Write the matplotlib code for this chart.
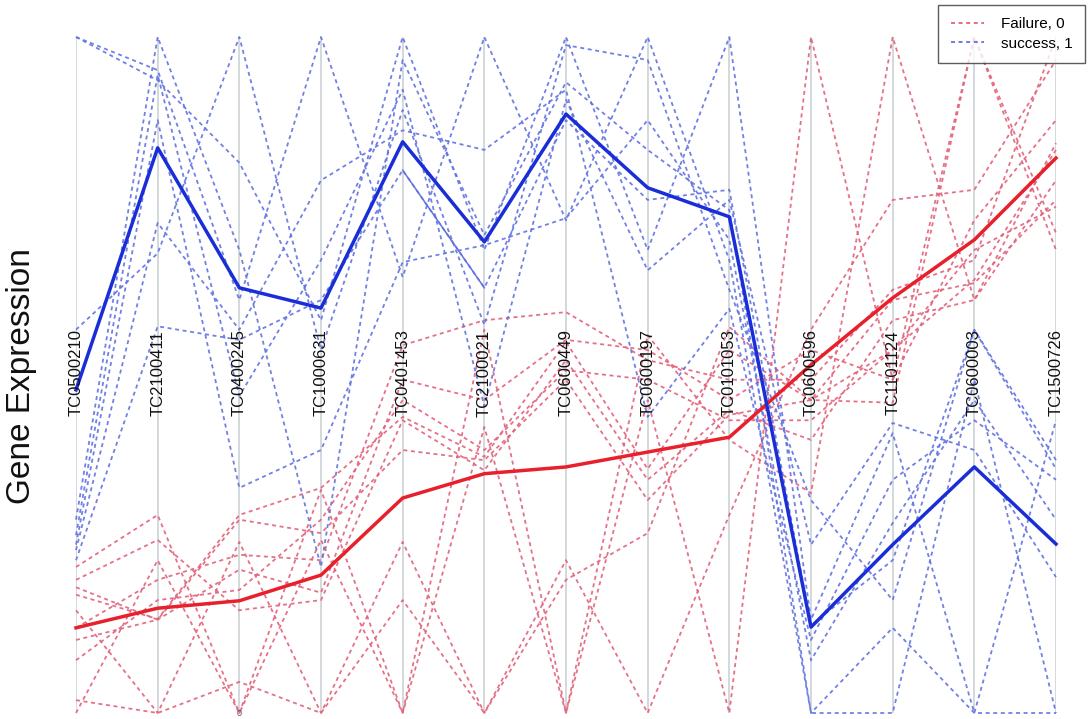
import matplotlib
matplotlib.use("Agg")
import matplotlib.pyplot as plt
from matplotlib.lines import Line2D

genes = ["TC0500210", "TC2100411", "TC0400245", "TC1000631", "TC0401453",
         "TC2100021", "TC0600449", "TC0600197", "TC0101053", "TC0600596",
         "TC1101124", "TC0600003", "TC1500726"]

# normalised expression of the "success, 1" samples
success_samples = [
    [1.000, 0.951, 0.611, 1.000, 0.645, 1.000, 0.729, 1.000, 0.670, 0.000, 0.000, 0.493, 0.000],
    [1.000, 0.936, 0.814, 0.581, 1.000, 0.685, 1.000, 0.685, 1.000, 0.138, 0.414, 0.000, 0.433],
    [0.567, 0.680, 1.000, 0.537, 0.892, 0.574, 0.988, 0.966, 0.626, 0.315, 0.167, 0.567, 0.374],
    [0.286, 1.000, 0.685, 0.216, 0.966, 0.707, 0.933, 0.833, 0.744, 0.000, 0.126, 0.000, 0.000],
    [0.263, 0.944, 0.469, 0.670, 0.922, 0.454, 0.907, 0.655, 0.759, 0.249, 0.429, 0.389, 0.201],
    [0.249, 0.877, 0.333, 0.389, 0.667, 0.692, 0.732, 0.877, 0.700, 0.078, 0.281, 0.463, 0.286],
    [0.241, 0.725, 0.567, 0.788, 0.862, 0.833, 0.922, 0.438, 0.598, 0.108, 0.345, 0.433, 0.345],
    [0.226, 0.572, 0.552, 0.611, 0.803, 0.629, 0.877, 0.759, 0.774, 0.130, 0.226, 0.567, 0.361],
]

# normalised expression of the "Failure, 0" samples
failure_samples = [
    [0.000, 0.226, 0.000, 0.256, 0.000, 0.423, 0.000, 0.463, 0.000, 1.000, 0.493, 1.000, 0.710],
    [0.152, 0.000, 0.253, 0.000, 0.253, 0.000, 0.226, 0.000, 0.293, 0.567, 0.759, 0.774, 0.966],
    [0.216, 0.293, 0.000, 0.330, 0.000, 0.567, 0.000, 0.559, 0.404, 0.325, 1.000, 0.611, 0.843],
    [0.019, 0.000, 0.046, 0.000, 0.167, 0.000, 0.197, 0.266, 0.571, 0.463, 0.459, 1.000, 0.685],
    [0.126, 0.197, 0.234, 0.226, 0.544, 0.581, 0.593, 0.522, 0.493, 0.493, 0.626, 0.670, 1.000],
    [0.108, 0.138, 0.212, 0.178, 0.493, 0.463, 0.552, 0.537, 0.463, 0.537, 0.493, 0.729, 0.877],
    [0.078, 0.167, 0.182, 0.286, 0.463, 0.389, 0.507, 0.493, 0.433, 0.433, 0.537, 0.641, 0.833],
    [0.197, 0.256, 0.152, 0.167, 0.433, 0.359, 0.522, 0.345, 0.448, 0.404, 0.581, 0.611, 0.788],
    [0.186, 0.138, 0.286, 0.266, 0.389, 0.374, 0.493, 0.315, 0.441, 0.463, 0.611, 0.636, 0.759],
    [0.175, 0.139, 0.293, 0.333, 0.438, 0.379, 0.549, 0.361, 0.537, 0.463, 0.537, 0.685, 0.749],
]

success_mean = [0.478, 0.836, 0.629, 0.599, 0.845, 0.697, 0.886, 0.777, 0.734, 0.127, 0.249, 0.364, 0.250]
failure_mean = [0.126, 0.155, 0.166, 0.204, 0.318, 0.354, 0.364, 0.386, 0.408, 0.515, 0.614, 0.700, 0.821]

# thin solid success trace between TC0401453 and TC2100021
thin_idx = [4, 5]
thin_vals = [0.803, 0.629]

legend_labels = ["Failure, 0", "success, 1"]

RED_D = "#e2627a"
BLUE_D = "#6273e0"
RED_B = "#e8202c"
BLUE_B = "#1a2ed8"
DASH = (0, (2.2, 2.0))

plt.rcParams["font.family"] = ["Liberation Sans", "DejaVu Sans"]

fig = plt.figure(figsize=(10.9, 7.19), dpi=100)
ax = fig.add_axes([76 / 1090, 6 / 719, 980 / 1090, 676 / 719])
x = list(range(len(genes)))

for xi in x:
    ax.axvline(xi, color="#d3d8dc", lw=1.4, zorder=0)

for s in failure_samples:
    ax.plot(x, s, color=RED_D, lw=1.3, ls=DASH, alpha=0.9, clip_on=False, zorder=2)
for s in success_samples:
    ax.plot(x, s, color=BLUE_D, lw=1.3, ls=DASH, alpha=0.9, clip_on=False, zorder=2)

ax.plot(thin_idx, thin_vals, color=BLUE_D, lw=1.1, clip_on=False, zorder=3)
ax.plot(x, failure_mean, color=RED_B, lw=2.5, clip_on=False, zorder=4)
ax.plot(x, success_mean, color=BLUE_B, lw=2.5, clip_on=False, zorder=5)

for xi, g in zip(x, genes):
    ax.text(xi, 0.503, g, rotation=90, ha="center", va="center", fontsize=12,
            color="#111111", zorder=6)

ax.text(2, 0.0, "0", ha="center", va="center", fontsize=6.5, color="#555555")

ax.set_xlim(0, len(genes) - 1)
ax.set_ylim(0, 1)
ax.axis("off")

fig.text(22 / 1090, 1 - 376 / 719, "Gene Expression", rotation=90, ha="center",
         va="center", fontsize=24, color="#111111")

handles = [Line2D([0], [0], color=RED_D, lw=1.3, ls=DASH),
           Line2D([0], [0], color=BLUE_D, lw=1.3, ls=DASH)]
leg = fig.legend(handles, legend_labels, loc="upper right",
                 bbox_to_anchor=(1085 / 1090, 1 - 5 / 719), borderaxespad=0,
                 fontsize=11, frameon=True, fancybox=False, edgecolor="#333333",
                 handlelength=2.2, borderpad=0.8, labelspacing=0.35,
                 handletextpad=1.1)
leg.get_frame().set_linewidth(1.0)

fig.savefig("out.png", dpi=100)
